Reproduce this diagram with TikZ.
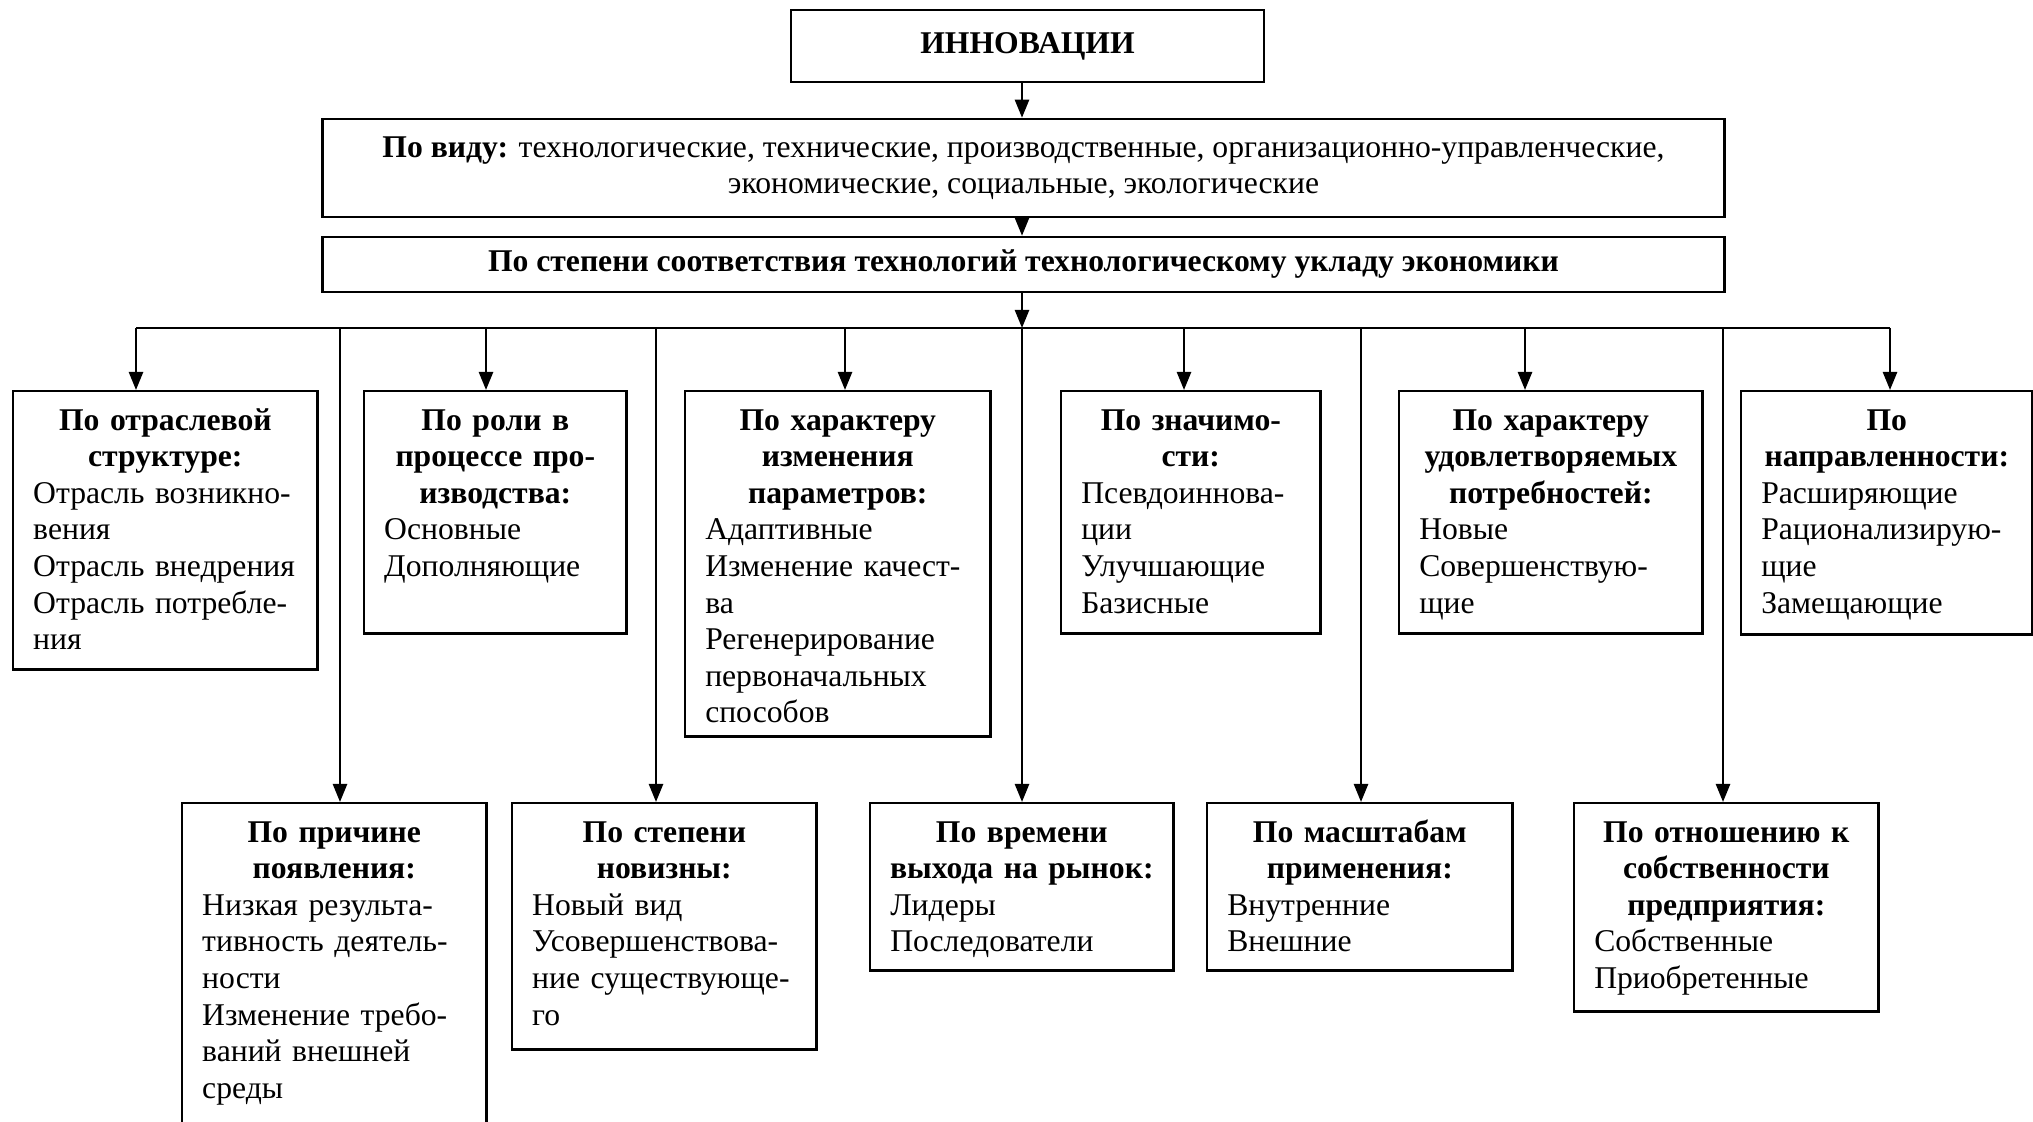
\documentclass[tikz,border=0pt]{standalone}
\usepackage{fontspec}
\setmainfont{Liberation Serif}
\usetikzlibrary{arrows.meta}

\begin{document}
\begin{tikzpicture}[x=0.01cm,y=-0.01cm,line width=0.7pt,
	>={Triangle[length=0.18cm,width=0.14cm]},
	font=\fontsize{9pt}{10.4pt}\selectfont,
	head/.style={draw,align=center,inner sep=0pt},
	kind/.style 2 args={draw,anchor=north west,inner xsep=0.2cm,inner ysep=0.1cm,
		text height=0.29cm,text width=#1,text depth=#2}]
	\useasboundingbox (0,0) rectangle (2033,1122);
	% верх
	\node[head,minimum width=4.73cm,minimum height=0.72cm] (INN) at (1027.5,46) {\textbf{ИННОВАЦИИ}};
	\node[head,minimum width=14.01cm,minimum height=0.98cm] (vid) at (1023.5,168)
		{\textbf{По виду:} технологические, технические, производственные, организационно-управленческие,\\экономические, социальные, экологические};
	\node[head,minimum width=14.01cm,minimum height=0.55cm] (stepen) at (1023.5,264.5)
		{\textbf{По степени соответствия технологий технологическому укладу экономики}};
	% первый ряд
	\node[kind={2.64cm}{2.29cm}] (b1) at (12,390) {{\centering\bfseries По отраслевой\\структуре:\par}
		Отрасль возникно-\\вения\\Отрасль внедрения\\Отрасль потребле-\\ния};
	\node[kind={2.22cm}{1.93cm}] (b2) at (363,390) {{\centering\bfseries По роли в\\процессе про-\\изводства:\par}
		Основные\\Дополняющие};
	\node[kind={2.65cm}{2.96cm}] (b3) at (684,390) {{\centering\bfseries По характеру\\изменения\\параметров:\par}
		Адаптивные\\Изменение качест-\\ва\\Регенерирование\\первоначальных\\способов};
	\node[kind={2.19cm}{1.93cm}] (b4) at (1060,390) {{\centering\bfseries По значимо-\\сти:\par}
		Псевдоиннова-\\ции\\Улучшающие\\Базисные};
	\node[kind={2.63cm}{1.93cm}] (b5) at (1398,390) {{\centering\bfseries По характеру\\удовлетворяемых\\потребностей:\par}
		Новые\\Совершенствую-\\щие};
	\node[kind={2.51cm}{1.94cm}] (b6) at (1740,390) {{\centering\bfseries По\\направленности:\par}
		Расширяющие\\Рационализирую-\\щие\\Замещающие};
	% второй ряд
	\node[kind={2.64cm}{2.84cm}] (b7) at (181,802) {{\centering\bfseries По причине\\появления:\par}
		Низкая результа-\\тивность деятель-\\ности\\Изменение требо-\\ваний внешней\\среды};
	\node[kind={2.64cm}{1.97cm}] (b8) at (511,802) {{\centering\bfseries По степени\\новизны:\par}
		Новый вид\\Усовершенствова-\\ние существующе-\\го};
	\node[kind={2.63cm}{1.18cm}] (b9) at (869,802) {{\centering\bfseries По времени\\\makebox[\linewidth]{выхода на рынок:}\par}
		Лидеры\\Последователи};
	\node[kind={2.65cm}{1.18cm}] (b10) at (1206,802) {{\centering\bfseries По масштабам\\применения:\par}
		Внутренние\\Внешние};
	\node[kind={2.64cm}{1.59cm}] (b11) at (1573,802) {{\centering\bfseries По отношению к\\собственности\\предприятия:\par}
		Собственные\\Приобретенные};
	% стрелки
	\coordinate (hub) at (1022,328);
	\draw[->] (INN.south -| hub) -- (vid.north -| hub);
	\draw[->] (vid.south -| hub) -- (stepen.north -| hub);
	\draw[->] (stepen.south -| hub) -- (hub);
	\foreach \n/\x in {b1/136,b2/486,b3/845,b4/1184,b5/1525,b6/1890,b7/340,b8/656,b9/1022,b10/1361,b11/1723}
		{\coordinate (d\n) at (\x,328);
		\draw[->] (d\n) -- (d\n |- \n.north);}
	\draw (db1) -- (db6);
\end{tikzpicture}
\end{document}
